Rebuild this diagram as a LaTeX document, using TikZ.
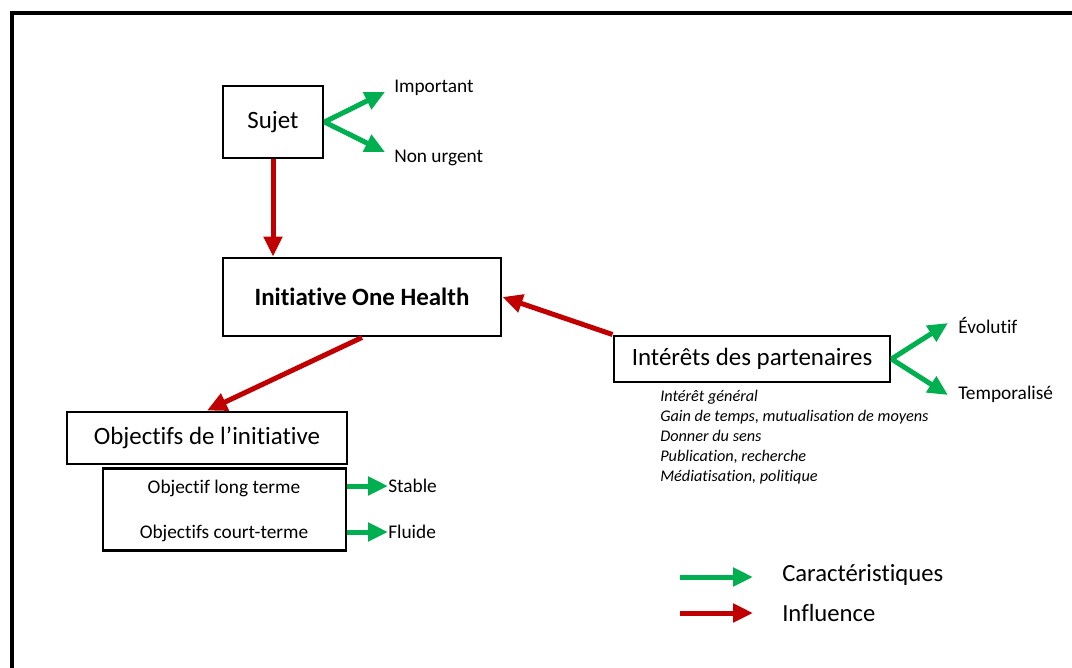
\documentclass[tikz,border=0pt]{standalone}
\usepackage{fontspec}
\setmainfont[Ligatures=NoCommon]{Carlito}
\usetikzlibrary{arrows.meta,positioning}
\definecolor{caracgreen}{RGB}{0,176,80}
\definecolor{inflred}{RGB}{192,0,0}

\begin{document}
\begin{tikzpicture}[x=0.75pt,y=-0.75pt,
  box/.style={draw, line width=2.2pt, inner sep=0pt, font=\fontsize{18.7}{22}\selectfont},
  lbl/.style={anchor=west, inner sep=0pt, font=\fontsize{14.5}{17}\selectfont},
  carac/.style={draw=caracgreen, line width=3.75pt, -{Triangle[length=15pt,width=13.5pt]}, color=caracgreen},
  infl/.style={draw=inflred, line width=3.75pt, -{Triangle[length=15pt,width=13.5pt]}, color=inflred}]
\useasboundingbox (0,0) rectangle (1072,668);
\draw[line width=3pt] (1085,12.5) -- (11.5,12.5) -- (11.5,685);

% nodes
\node[box, minimum width=75pt, minimum height=54pt] (sujet) at (273,122) {Sujet};
\node[box, minimum width=208.5pt, minimum height=58.5pt, font=\bfseries\fontsize{18.7}{22}\selectfont] (ini) at (362,297) {Initiative One Health};
\node[box, minimum width=207pt, minimum height=34.5pt] (inter) at (752,359) {Intérêts des partenaires};
\node[box, minimum width=210pt, minimum height=39pt] (obj) at (207,438) {Objectifs de l’initiative};
\node[box, minimum width=182.25pt, minimum height=61.5pt] (objs) at (224.5,509.5) {};
\node[font=\fontsize{14.5}{17}\selectfont, inner sep=0pt] (olong) at (224,488) {Objectif long terme};
\node[font=\fontsize{14.5}{17}\selectfont, inner sep=0pt] (ocourt) at (224,533) {Objectifs court-terme};

% characteristics
\node[lbl] (imp) at (394,88) {Important};
\node[lbl] (nonurg) at (394,158) {Non urgent};
\node[lbl] (evol) at (958,325) {Évolutif};
\node[lbl] (temp) at (958,394) {Temporalisé};
\node[lbl] (stable) at (388,486) {Stable};
\node[lbl] (fluide) at (388,532) {Fluide};
\node[anchor=north west, align=left, inner sep=0pt, font=\itshape\fontsize{12.2}{15}\selectfont] (liste) at (660,390)
  {Intérêt général\\Gain de temps, mutualisation de moyens\\Donner du sens\\Publication, recherche\\Médiatisation, politique};

\coordinate (impt) at (385,92);
\coordinate (nont) at (385,152);
\coordinate (evolt) at (948,323);
\coordinate (tempt) at (948,395);

\draw[carac] (sujet.east) -- (impt);
\draw[carac] (sujet.east) -- (nont);
\draw[carac] (inter.east) -- (evolt);
\draw[carac] (inter.east) -- (tempt);
\draw[carac] (objs.east |- stable) -- (stable.west);
\draw[carac] (objs.east |- fluide) -- (fluide.west);

\draw[infl] (sujet.south) -- (sujet.south |- ini.north);
\draw[infl] (inter.north west) -- (ini.east);
\draw[infl] (ini.south) -- (obj.north);

% legend
\node[lbl, font=\fontsize{18.5}{22}\selectfont] (legc) at (782,575) {Caractéristiques};
\node[lbl, font=\fontsize{18.5}{22}\selectfont] (legi) at (782,613) {Influence};
\coordinate (legca) at (680,577);
\coordinate (legcb) at (753,577);
\coordinate (legia) at (680,613);
\coordinate (legib) at (753,613);
\draw[carac] (legca) -- (legcb);
\draw[infl] (legia) -- (legib);

\end{tikzpicture}
\end{document}
